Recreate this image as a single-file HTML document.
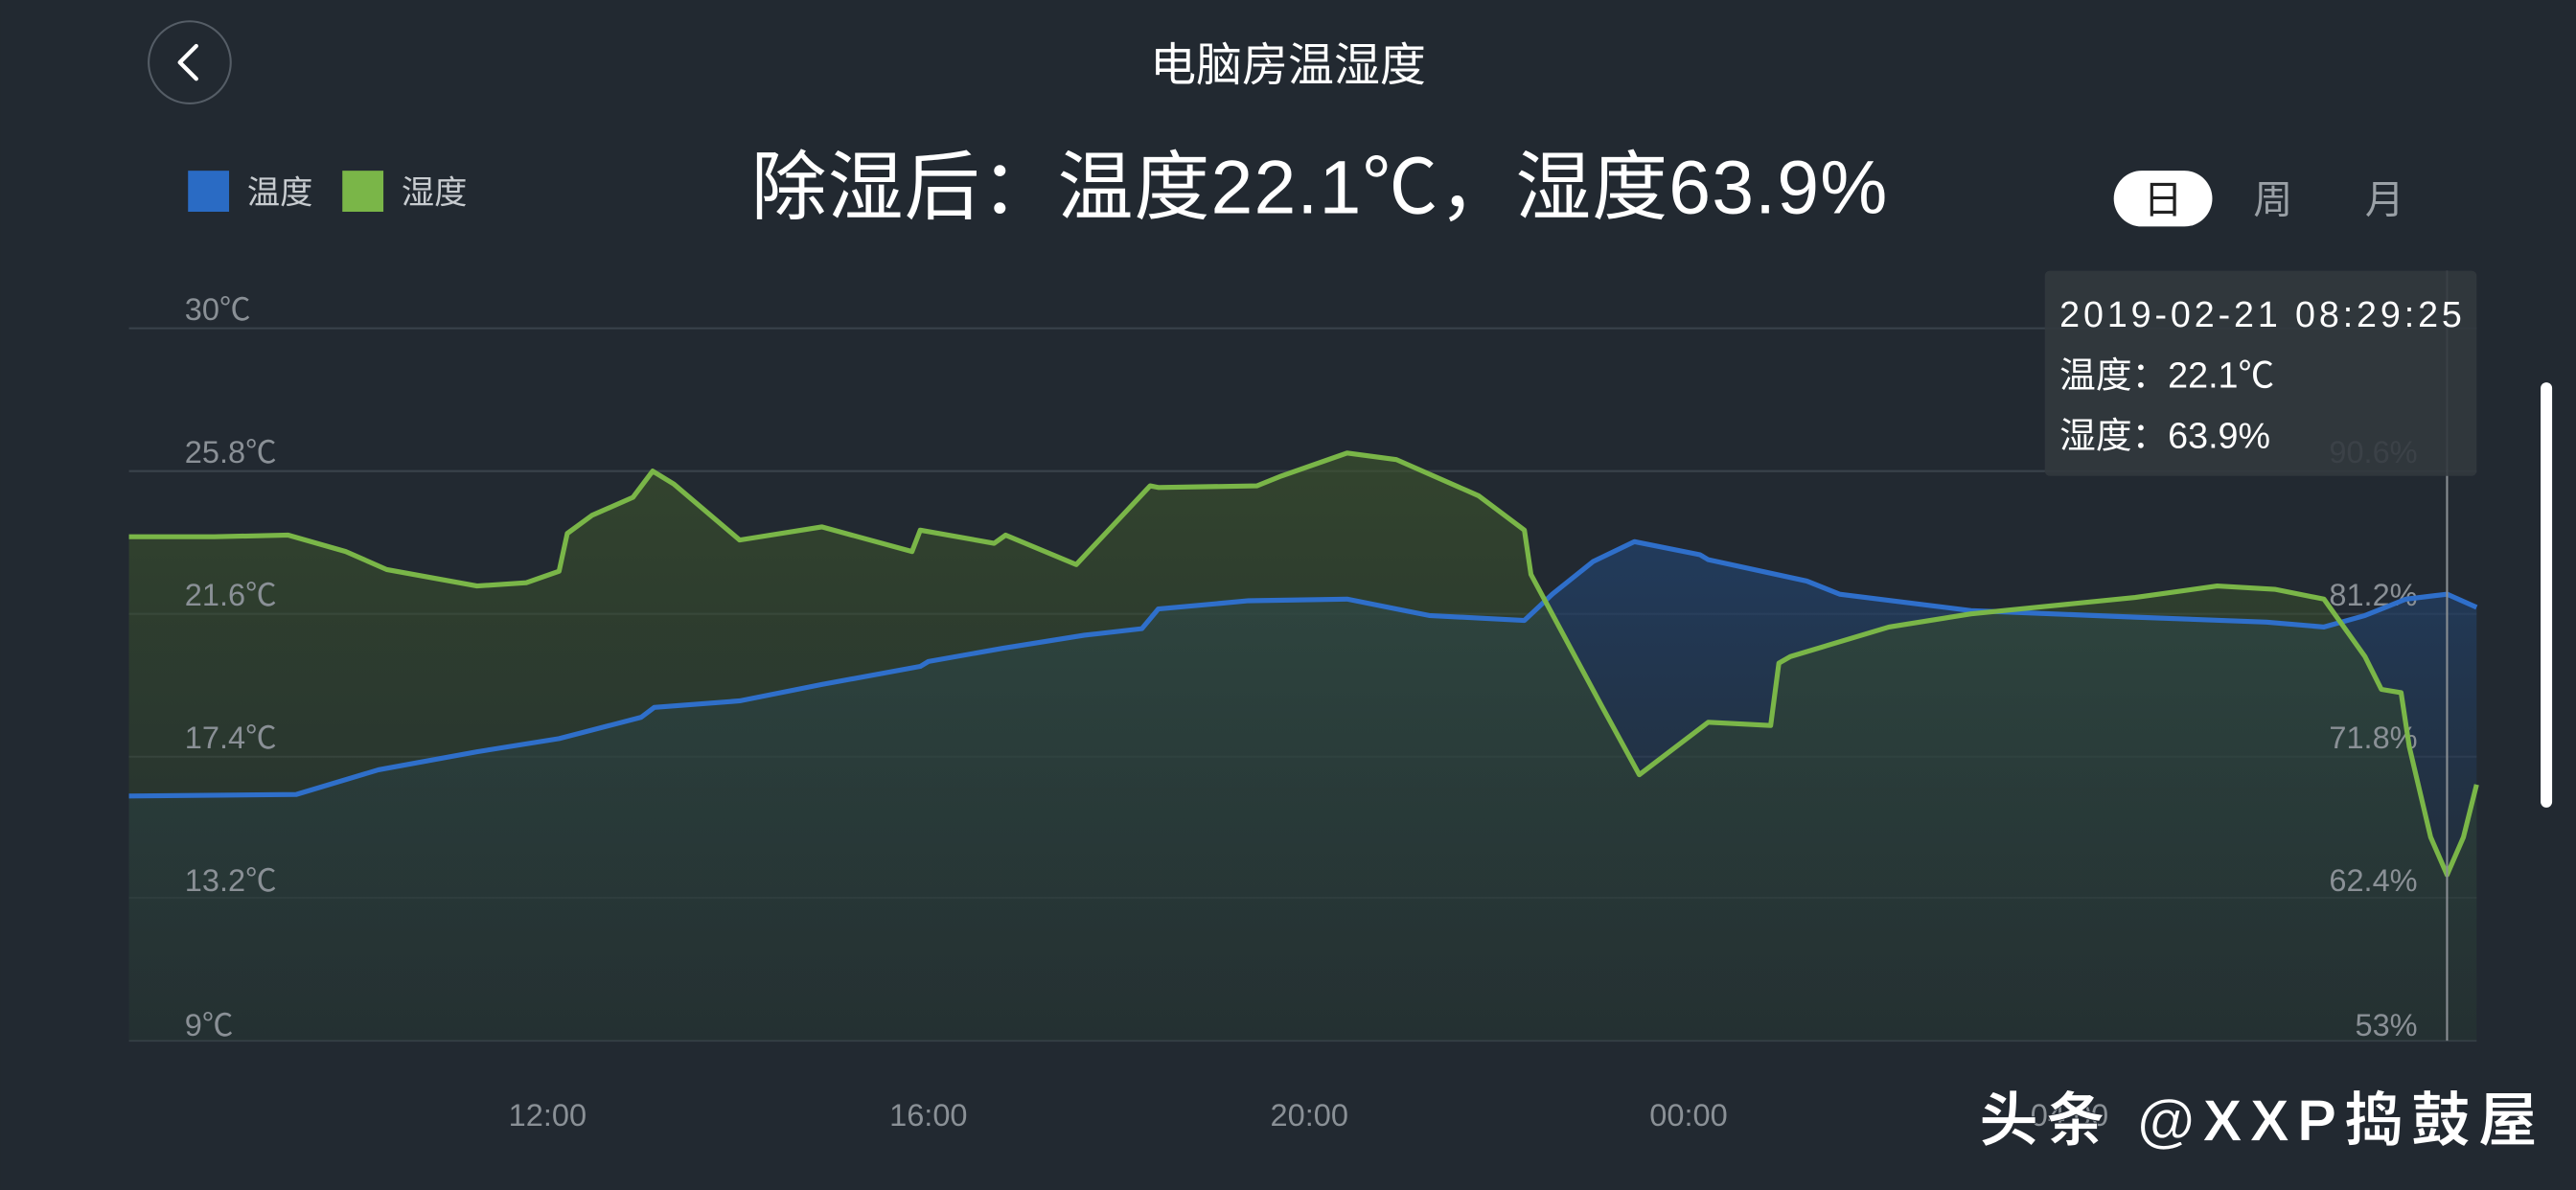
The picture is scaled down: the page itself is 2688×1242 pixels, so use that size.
<!DOCTYPE html>
<html><head><meta charset="utf-8"><style>
html,body{margin:0;padding:0;background:#222931;}
svg{display:block}
text{font-family:"Liberation Sans","Noto Sans CJK SC",sans-serif;}
</style></head><body>
<svg width="2688" height="1242" viewBox="0 0 1568 725" xmlns="http://www.w3.org/2000/svg">
<defs>
<linearGradient id="gb" x1="0" y1="0" x2="0" y2="1">
<stop offset="0" stop-color="#22416a" stop-opacity="0.75"/>
<stop offset="1" stop-color="#232e38" stop-opacity="0.4"/>
</linearGradient>
<linearGradient id="gg" x1="0" y1="0" x2="0" y2="1">
<stop offset="0" stop-color="#3c532c" stop-opacity="0.65"/>
<stop offset="1" stop-color="#283a2e" stop-opacity="0.35"/>
</linearGradient>
</defs>
<rect width="1568" height="725" fill="#222931"/>
<circle cx="115" cy="38" r="25" fill="none" stroke="#555d66" stroke-width="1.2"/>
<path d="M119 28 L109 38 L119 48" fill="none" stroke="#fff" stroke-width="2.5" stroke-linecap="round" stroke-linejoin="round"/>
<text x="784" y="49" font-size="28" fill="#fff" text-anchor="middle">电脑房温湿度</text>
<text x="803" y="130" font-size="46" fill="#fff" text-anchor="middle" textLength="692">除湿后：温度22.1℃，湿度63.9%</text>
<rect x="114" y="104" width="25" height="25" fill="#2a6bc4"/>
<text x="150" y="124" font-size="20" fill="#c8ccd0">温度</text>
<rect x="208" y="104" width="25" height="25" fill="#7ab648"/>
<text x="244" y="124" font-size="20" fill="#c8ccd0">湿度</text>
<rect x="1287" y="104" width="60" height="34" rx="17" fill="#fff"/>
<text x="1317" y="130" font-size="24" fill="#222" text-anchor="middle">日</text>
<text x="1384" y="130" font-size="24" fill="#9aa0a6" text-anchor="middle">周</text>
<text x="1452" y="130" font-size="24" fill="#9aa0a6" text-anchor="middle">月</text>
<g stroke="#3a424b" stroke-width="1.2">
<line x1="78" y1="200" x2="1508" y2="200"/><line x1="78" y1="287" x2="1508" y2="287"/>
<line x1="78" y1="374" x2="1508" y2="374"/><line x1="78" y1="461" x2="1508" y2="461"/>
<line x1="78" y1="547" x2="1508" y2="547"/><line x1="78" y1="634" x2="1508" y2="634"/>
</g>
<path d="M78 634 L78 485 L180 484 L230 469 L290 458 L340 450 L390 437 L398 431 L450 427 L500 417 L560 406 L565 403 L610 395 L660 387 L695 383 L705 371 L760 366 L820 365 L870 375 L928 378 L945 362 L970 342 L995 330 L1035 338 L1040 341 L1100 354 L1120 362 L1200 372 L1300 376 L1380 379 L1415 382 L1440 375 L1465 365 L1490 362 L1508 370 L1508 634 Z" fill="url(#gb)"/>
<path d="M78 634 L78 327 L130 327 L175 326 L210 336 L235 347 L290 357 L320 355 L340 348 L345 325 L360 314 L385 303 L397 287 L410 295 L450 329 L500 321 L555 336 L560 323 L605 331 L612 326 L655 344 L700 296 L705 297 L765 296 L780 290 L820 276 L850 280 L900 302 L928 323 L932 350 L975 430 L998 472 L1040 440 L1078 442 L1083 404 L1090 400 L1150 382 L1200 374 L1300 364 L1350 357 L1385 359 L1415 365 L1440 400 L1450 420 L1462 422 L1467 455 L1480 510 L1490 533 L1500 510 L1508 478 L1508 634 Z" fill="url(#gg)"/>
<g font-size="19" fill="#8a9096">
<text x="112" y="195">30℃</text><text x="112" y="282">25.8℃</text><text x="112" y="369">21.6℃</text>
<text x="112" y="456">17.4℃</text><text x="112" y="543">13.2℃</text><text x="112" y="631">9℃</text>
<g text-anchor="end"><text x="1472" y="282">90.6%</text><text x="1472" y="369">81.2%</text><text x="1472" y="456">71.8%</text><text x="1472" y="543">62.4%</text><text x="1472" y="631">53%</text></g>
</g>
<polyline fill="none" stroke="#2f6fca" stroke-width="3" stroke-linejoin="round" points="78,485 180,484 230,469 290,458 340,450 390,437 398,431 450,427 500,417 560,406 565,403 610,395 660,387 695,383 705,371 760,366 820,365 870,375 928,378 945,362 970,342 995,330 1035,338 1040,341 1100,354 1120,362 1200,372 1300,376 1380,379 1415,382 1440,375 1465,365 1490,362 1508,370"/>
<polyline fill="none" stroke="#7ab648" stroke-width="3" stroke-linejoin="round" points="78,327 130,327 175,326 210,336 235,347 290,357 320,355 340,348 345,325 360,314 385,303 397,287 410,295 450,329 500,321 555,336 560,323 605,331 612,326 655,344 700,296 705,297 765,296 780,290 820,276 850,280 900,302 928,323 932,350 975,430 998,472 1040,440 1078,442 1083,404 1090,400 1150,382 1200,374 1300,364 1350,357 1385,359 1415,365 1440,400 1450,420 1462,422 1467,455 1480,510 1490,533 1500,510 1508,478"/>
<line x1="1490" y1="165" x2="1490" y2="634" stroke="#8a8f94" stroke-width="1.2"/>
<rect x="1245" y="165" width="263" height="125" rx="3" fill="#32383e" fill-opacity="0.9"/>
<g font-size="22" fill="#fff"><text x="1254" y="199" textLength="245">2019-02-21 08:29:25</text><text x="1254" y="236">温度：22.1℃</text><text x="1254" y="273">湿度：63.9%</text></g>
<rect x="1547" y="233" width="7" height="259" rx="3.5" fill="#fff"/>
<g font-size="19" fill="#8a9096" text-anchor="middle"><text x="333" y="686">12:00</text><text x="565" y="686">16:00</text><text x="797" y="686">20:00</text><text x="1028" y="686">00:00</text><text x="1260" y="686">04:00</text></g>
<text x="1205" y="695" font-size="36" font-weight="bold" fill="#fff" stroke="#222931" stroke-width="0.5" textLength="340">头条 @XXP捣鼓屋</text>
</svg>
</body></html>
